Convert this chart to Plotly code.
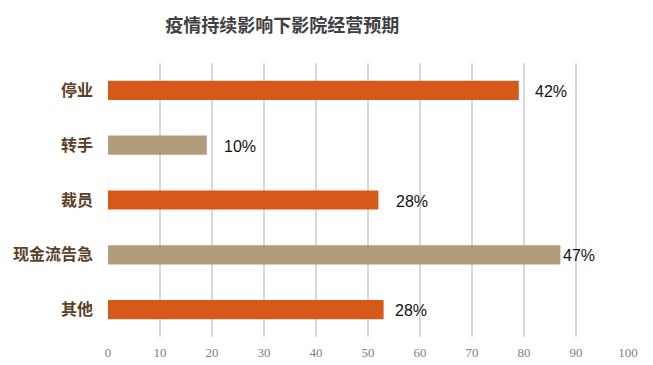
import plotly.graph_objects as go

categories = ["停业", "转手", "裁员", "现金流告急", "其他"]
values = [79, 19, 52, 87, 53]
labels = ["42%", "10%", "28%", "47%", "28%"]
bar_colors = ["#D55A19", "#B19B7B", "#D55A19", "#B19B7B", "#D55A19"]
label_gaps = [14, 15, 16, 1, 9]

fig = go.Figure()
fig.add_trace(go.Bar(
    y=categories, x=values, orientation="h",
    marker=dict(color=bar_colors, line=dict(width=0)),
    width=0.35, hoverinfo="skip",
))
for c, v, t, g in zip(categories, values, labels, label_gaps):
    fig.add_annotation(x=v, y=c, text=t, showarrow=False, xanchor="left",
                       xshift=g, yshift=-1,
                       font=dict(family="Liberation Sans, Arial", size=16, color="#111111"))

fig.update_layout(
    width=653, height=365,
    margin=dict(l=100, r=33, t=55, b=36),
    paper_bgcolor="white", plot_bgcolor="white",
    showlegend=False,
    title=dict(text="<b>疫情持续影响下影院经营预期</b>", x=0.42, xanchor="center",
               y=0.951, yanchor="middle",
               font=dict(family="Noto Sans CJK SC", size=18, color="#404040")),
    xaxis=dict(range=[0, 100], dtick=10, showgrid=True, gridcolor="#D9D9D9", gridwidth=1.5,
               zeroline=False, showline=False, ticks="", automargin=False,
               tickfont=dict(family="Liberation Serif, Times New Roman", size=13, color="#808080"),
               ticklabelstandoff=6),
    yaxis=dict(autorange="reversed", showgrid=False, zeroline=False, showline=False,
               ticks="", ticklabelstandoff=14, automargin=False,
               tickfont=dict(family="Noto Sans CJK SC", size=16, color="#5C4027", weight="bold")),
)

fig.write_html("out.html")
